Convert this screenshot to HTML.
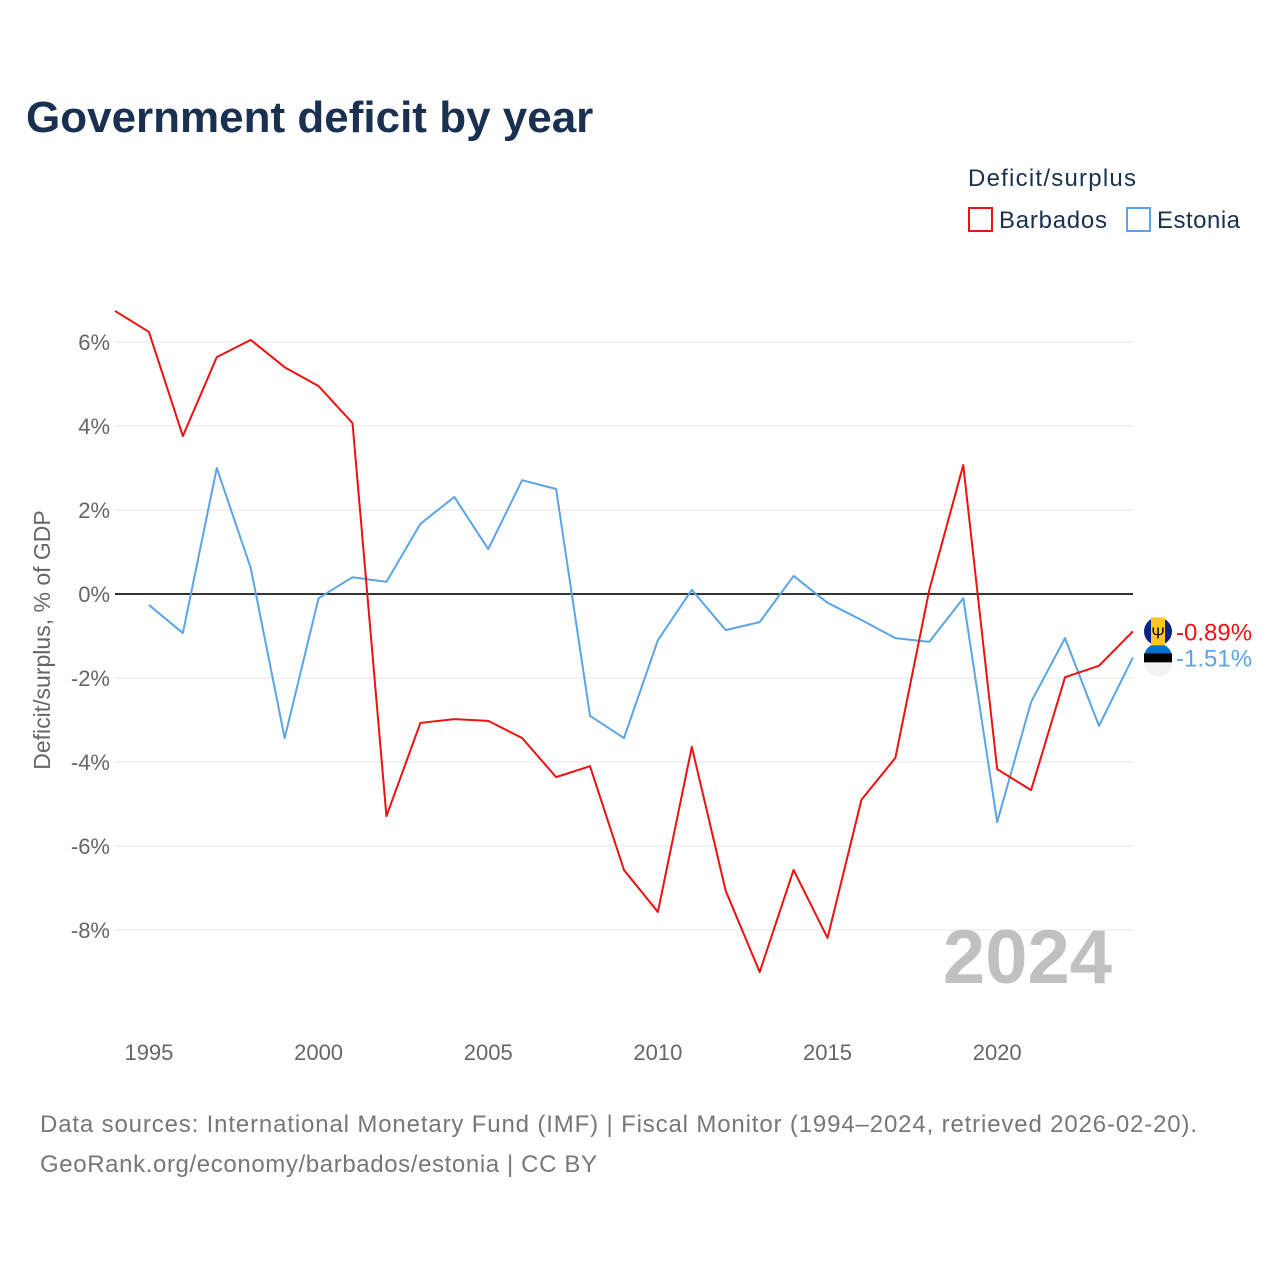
<!DOCTYPE html>
<html><head><meta charset="utf-8">
<style>
body{margin:0;background:#fff;font-family:"Liberation Sans",sans-serif;}
svg text{font-family:"Liberation Sans",sans-serif;}
</style></head>
<body>
<svg id="chart" width="1280" height="1280" viewBox="0 0 1280 1280" xmlns="http://www.w3.org/2000/svg">
<text x="26" y="132" font-size="44" font-weight="bold" fill="#1a3050">Government deficit by year</text>
<text x="968" y="186" font-size="24" fill="#1a3050" textLength="168">Deficit/surplus</text>
<g><rect x="969" y="208" width="23" height="23" fill="none" stroke="#ee1111" stroke-width="2"/><text x="999" y="228" font-size="24" fill="#1a3050" textLength="108">Barbados</text></g>
<g><rect x="1127" y="208" width="23" height="23" fill="none" stroke="#5ba4e8" stroke-width="2"/><text x="1157" y="228" font-size="24" fill="#1a3050" textLength="83">Estonia</text></g>
<text transform="translate(50,640) rotate(-90)" text-anchor="middle" font-size="23" fill="#666">Deficit/surplus, % of GDP</text>
<g id="grid"></g><g id="series"></g>
<text x="1112" y="983" text-anchor="end" font-size="76" font-weight="bold" fill="#c0c0c0">2024</text>
<text x="40" y="1132" font-size="24" fill="#777" textLength="1157">Data sources: International Monetary Fund (IMF) | Fiscal Monitor (1994–2024, retrieved 2026-02-20).</text>
<text x="40" y="1172" font-size="24" fill="#777" textLength="557">GeoRank.org/economy/barbados/estonia | CC BY</text>
</svg>
<script>
const years=[1994,1995,1996,1997,1998,1999,2000,2001,2002,2003,2004,2005,2006,2007,2008,2009,2010,2011,2012,2013,2014,2015,2016,2017,2018,2019,2020,2021,2022,2023,2024];
const barbados=[6.74,6.24,3.76,5.64,6.05,5.40,4.95,4.07,-5.29,-3.07,-2.98,-3.02,-3.43,-4.36,-4.10,-6.57,-7.57,-3.64,-7.07,-9.0,-6.57,-8.19,-4.90,-3.90,0.1,3.07,-4.17,-4.67,-1.98,-1.71,-0.89];
const estonia=[null,-0.26,-0.93,3.0,0.62,-3.43,-0.1,0.40,0.29,1.67,2.31,1.07,2.71,2.50,-2.9,-3.43,-1.10,0.1,-0.86,-0.67,0.43,-0.21,-0.62,-1.05,-1.14,-0.1,-5.43,-2.57,-1.05,-3.14,-1.51];
const yTicks=[6,4,2,0,-2,-4,-6,-8];
const xTicks=[1995,2000,2005,2010,2015,2020];
const NS="http://www.w3.org/2000/svg";
const X=y=>115+(y-1994)*33.93, Y=v=>594-v*42;
function mk(t,a,p){const e=document.createElementNS(NS,t);for(const k in a)e.setAttribute(k,a[k]);p.appendChild(e);return e;}
const g=document.getElementById('grid'), s=document.getElementById('series');
yTicks.forEach(v=>{
 const l=mk('line',{x1:115,x2:1133,y1:Y(v),y2:Y(v),stroke:v===0?'#333':'#e6e6e6','stroke-width':v===0?2:1},g);
 
 
 const t=mk('text',{x:110,y:Y(v)+8,'text-anchor':'end','font-size':22,fill:'#666'},g);
 t.textContent=v+'%';
 
 
});
xTicks.forEach(yr=>{
 const t=mk('text',{x:X(yr),y:1060,'text-anchor':'middle','font-size':22,fill:'#666'},g);
 t.textContent=yr;
 
 
});
function line(data,color,name){
 const pts=[];data.forEach((v,i)=>{if(v!==null)pts.push(X(years[i])+','+Y(v));});
 const p=mk('polyline',{points:pts.join(' '),fill:'none',stroke:color,'stroke-width':2,'stroke-linejoin':'round'},s);
 
 
 const last=data[data.length-1];
 const c=mk('circle',{cx:1158,cy:Y(last),r:14,fill:name==='barbados'?'#00267f':'#0072ce'},s);
 
 
 if(name==='barbados'){mk('rect',{x:1151,y:Y(last)-14,width:14,height:28,fill:'#ffc726'},s);mk('text',{x:1158,y:Y(last)+7,'text-anchor':'middle','font-size':16,fill:'#000'},s).textContent='Ψ';}
 else{mk('rect',{x:1144,y:Y(last)-4,width:28,height:9,fill:'#000'},s);mk('path',{d:`M1144 ${Y(last)+5} h28 a14 14 0 0 1 -28 0z`,fill:'#f2f2f2'},s);}
 const t=mk('text',{x:1176,y:Y(last)+9,'font-size':24,fill:color},s);
 t.textContent=last.toFixed(2)+'%';
 
 
}
line(estonia,'#5ba4e8','estonia');
line(barbados,'#ee1111','barbados');
</script>
</body></html>
